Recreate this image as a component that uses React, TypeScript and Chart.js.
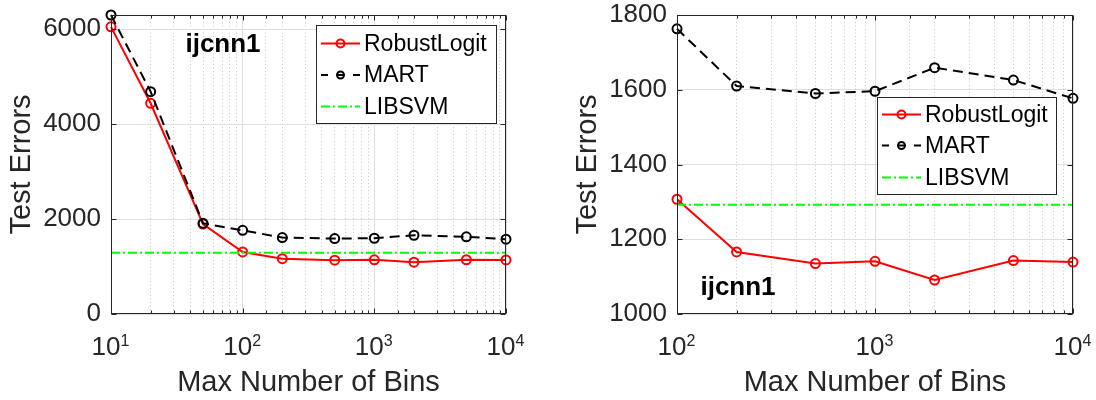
import React, { useEffect, useRef } from 'react';
import { Chart, registerables } from 'chart.js';

Chart.register(...registerables);

// ---- data ----
const binsLeft = [10, 20, 50, 100, 200, 500, 1000, 2000, 5000, 10000];
const robustLeft = [6050, 4440, 1895, 1307, 1166, 1135, 1141, 1091, 1143, 1139];
const martLeft = [6300, 4685, 1910, 1763, 1610, 1590, 1596, 1659, 1626, 1577];
const binsRight = [100, 200, 500, 1000, 2000, 5000, 10000];
const robustRight = [1307, 1166, 1135, 1141, 1091, 1143, 1139];
const martRight = [1763, 1610, 1590, 1596, 1659, 1626, 1577];
const libsvmErrors = 1292;
const seriesNames = ['RobustLogit', 'MART', 'LIBSVM'];
const datasetName = 'ijcnn1';
const xTitle = 'Max Number of Bins';
const yTitle = 'Test Errors';
const yTicksLeft = [0, 2000, 4000, 6000];
const yTicksRight = [1000, 1200, 1400, 1600, 1800];
const xTickBase = '10';

const FONT = '"Liberation Sans", Arial, Helvetica, sans-serif';
const AXIS_COLOR = '#262626';

const isMajor = (v: number) => {
  const lg = Math.log10(v);
  return Math.abs(lg - Math.round(lg)) < 1e-9;
};

const matlabPlugin = {
  id: 'matlab',
  afterDraw(chart: any, _args: any, opts: any) {
    const { ctx, chartArea: a, scales } = chart;
    const xs = scales.x;
    const ys = scales.y;
    const line = (x1: number, y1: number, x2: number, y2: number) => {
      ctx.beginPath();
      ctx.moveTo(x1, y1);
      ctx.lineTo(x2, y2);
      ctx.stroke();
    };
    ctx.save();
    ctx.strokeStyle = AXIS_COLOR;
    ctx.lineWidth = 1;
    ctx.setLineDash([]);
    const L = Math.round(a.left) + 0.5;
    const R = Math.round(a.right) - 0.5;
    const T = Math.round(a.top) + 0.5;
    const B = Math.round(a.bottom) - 0.5;
    xs.ticks.forEach((t: any) => {
      const px = Math.round(xs.getPixelForValue(t.value)) + 0.5;
      const len = isMajor(t.value) ? 5 : 3;
      line(px, B, px, B - len);
      line(px, T, px, T + len);
    });
    ys.ticks.forEach((t: any) => {
      const py = Math.round(ys.getPixelForValue(t.value)) + 0.5;
      line(L, py, L + 5, py);
      line(R, py, R - 5, py);
    });
    ctx.strokeRect(L, T, R - L, B - T);

    // exponents of the log-axis tick labels (base "10" is drawn by the axis)
    ctx.fillStyle = AXIS_COLOR;
    ctx.font = `16px ${FONT}`;
    ctx.textAlign = 'left';
    ctx.textBaseline = 'alphabetic';
    xs.ticks.forEach((t: any) => {
      if (!isMajor(t.value)) return;
      const px = xs.getPixelForValue(t.value);
      ctx.fillText(String(Math.round(Math.log10(t.value))), px + 9.5, a.bottom + 31.5);
    });

    // dataset name label
    if (opts.label) {
      ctx.fillStyle = '#000';
      ctx.font = `bold 26px ${FONT}`;
      ctx.textAlign = 'center';
      ctx.textBaseline = 'alphabetic';
      ctx.fillText(opts.label.text, opts.label.x, opts.label.y);
    }

    // legend
    const lg = opts.legend;
    if (lg) {
      ctx.fillStyle = '#fff';
      ctx.fillRect(lg.x, lg.y, lg.w, lg.h);
      ctx.strokeStyle = AXIS_COLOR;
      ctx.lineWidth = 1;
      ctx.strokeRect(lg.x + 0.5, lg.y + 0.5, lg.w, lg.h);
      chart.data.datasets.forEach((ds: any, i: number) => {
        const cy = lg.y + lg.rows[i];
        const x0 = lg.x + 5;
        const x1 = lg.x + 44;
        const mx = lg.x + 24.5;
        ctx.strokeStyle = ds.borderColor;
        ctx.lineWidth = ds.borderWidth;
        ctx.setLineDash(ds.legendDash || []);
        line(x0, cy, x1, cy);
        ctx.setLineDash([]);
        if (ds.pointRadius > 0) {
          ctx.beginPath();
          ctx.arc(mx, cy, ds.legendRadius, 0, Math.PI * 2);
          ctx.strokeStyle = ds.pointBorderColor;
          ctx.lineWidth = 2;
          ctx.stroke();
        }
        ctx.fillStyle = '#000';
        ctx.font = `23px ${FONT}`;
        ctx.textAlign = 'left';
        ctx.textBaseline = 'middle';
        ctx.fillText(ds.label, lg.x + 48, cy + 1);
      });
    }
    ctx.restore();
  },
};

function makeConfig(p: {
  bins: number[];
  robust: number[];
  mart: number[];
  xmin: number;
  ymin: number;
  ymax: number;
  yTicks: number[];
  yAxisWidth: number;
  padRight: number;
  yTitlePad: number;
  legend: any;
  label: any;
}) {
  const libsvmX = [p.xmin, 10000];
  return {
    type: 'line',
    data: {
      datasets: [
        {
          label: seriesNames[0],
          data: p.bins.map((b, i) => ({ x: b, y: p.robust[i] })),
          borderColor: '#ff0000',
          borderWidth: 2,
          pointRadius: 4.5,
          pointBorderWidth: 2,
          pointBorderColor: '#ff0000',
          pointBackgroundColor: 'rgba(0,0,0,0)',
          legendRadius: 4,
          legendDash: [],
          clip: false,
          order: 3,
        },
        {
          label: seriesNames[1],
          data: p.bins.map((b, i) => ({ x: b, y: p.mart[i] })),
          borderColor: '#000000',
          borderWidth: 2,
          borderDash: [10, 6],
          pointRadius: 4.5,
          pointBorderWidth: 2,
          pointBorderColor: '#000000',
          pointBackgroundColor: 'rgba(0,0,0,0)',
          legendRadius: 3.5,
          legendDash: [7, 9.5, 6, 9.5, 7, 100],
          clip: false,
          order: 2,
        },
        {
          label: seriesNames[2],
          data: libsvmX.map((x) => ({ x, y: libsvmErrors })),
          borderColor: '#00ff00',
          borderWidth: 2,
          borderDash: [9, 3, 2, 3],
          pointRadius: 0,
          legendDash: [9, 3, 2, 3],
          order: 1,
        },
      ],
    },
    options: {
      animation: false,
      responsive: false,
      maintainAspectRatio: false,
      layout: { padding: { left: 0, right: p.padRight, top: 15, bottom: 0 } },
      plugins: {
        legend: { display: false },
        tooltip: { enabled: false },
        matlab: { legend: p.legend, label: p.label },
      },
      scales: {
        x: {
          type: 'logarithmic',
          min: p.xmin,
          max: 10000,
          afterFit: (s: any) => {
            s.height = 86;
            s.paddingLeft = 0;
            s.paddingRight = 0;
          },
          ticks: {
            autoSkip: false,
            maxRotation: 0,
            minRotation: 0,
            padding: 18,
            labelOffset: -5,
            color: AXIS_COLOR,
            font: { family: FONT, size: 26 },
            callback: (v: any) => (isMajor(Number(v)) ? xTickBase : ''),
          },
          grid: {
            drawTicks: false,
            lineWidth: 1,
            color: (c: any) => (c.tick && isMajor(c.tick.value) ? '#dedede' : '#c8c8c8'),
          },
          border: {
            display: false,
            dash: (c: any) => (c.tick && !isMajor(c.tick.value) ? [1, 2.5] : []),
          },
          title: {
            display: true,
            text: xTitle,
            color: AXIS_COLOR,
            font: { family: FONT, size: 29 },
            padding: { top: 0, bottom: 0 },
          },
        },
        y: {
          type: 'linear',
          min: p.ymin,
          max: p.ymax,
          afterBuildTicks: (s: any) => {
            s.ticks = p.yTicks.map((v) => ({ value: v }));
          },
          afterFit: (s: any) => {
            s.width = p.yAxisWidth;
            s.paddingTop = 0;
            s.paddingBottom = 0;
          },
          ticks: {
            padding: 10,
            color: AXIS_COLOR,
            font: { family: FONT, size: 26 },
            callback: (v: any) => String(v),
          },
          grid: { drawTicks: false, color: '#dedede', lineWidth: 1 },
          border: { display: false },
          title: {
            display: true,
            text: yTitle,
            color: AXIS_COLOR,
            font: { family: FONT, size: 29 },
            padding: { top: p.yTitlePad, bottom: 0 },
          },
        },
      },
    },
    plugins: [matlabPlugin],
  } as any;
}

function Panel(props: { left: number; config: any }) {
  const ref = useRef<HTMLCanvasElement | null>(null);
  useEffect(() => {
    if (!ref.current) return;
    const chart = new Chart(ref.current, props.config);
    return () => chart.destroy();
  }, []);
  return (
    <canvas
      ref={ref}
      width={548}
      height={400}
      style={{ position: 'absolute', left: props.left, top: 0, width: 548, height: 400 }}
    />
  );
}

export default function App() {
  const leftCfg = makeConfig({
    bins: binsLeft,
    robust: robustLeft,
    mart: martLeft,
    xmin: 10,
    ymin: 0,
    ymax: 6300,
    yTicks: yTicksLeft,
    yAxisWidth: 111,
    padRight: 42,
    yTitlePad: 5,
    legend: { x: 316, y: 25, w: 180, h: 98, rows: [18.5, 50, 81.5] },
    label: { text: datasetName, x: 223, y: 52 },
  });
  const rightCfg = makeConfig({
    bins: binsRight,
    robust: robustRight,
    mart: martRight,
    xmin: 100,
    ymin: 1000,
    ymax: 1800,
    yTicks: yTicksRight,
    yAxisWidth: 129,
    padRight: 23,
    yTitlePad: 23,
    legend: { x: 329, y: 97, w: 179, h: 97, rows: [17.5, 48.5, 80.5] },
    label: { text: datasetName, x: 190, y: 295 },
  });
  return (
    <div style={{ position: 'absolute', left: 0, top: 0, width: 1096, height: 400, background: '#fff' }}>
      <Panel left={0} config={leftCfg} />
      <Panel left={548} config={rightCfg} />
    </div>
  );
}
